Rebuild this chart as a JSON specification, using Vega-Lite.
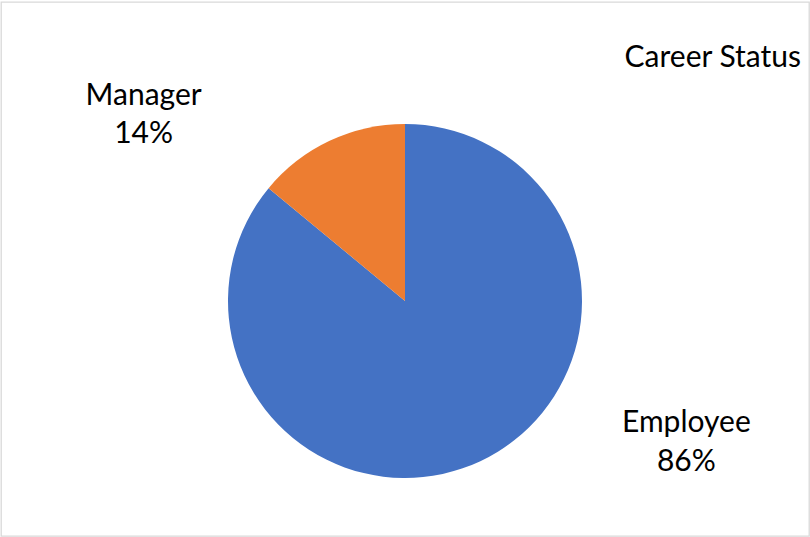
{
  "$schema": "https://vega.github.io/schema/vega-lite/v6.json",
  "width": 808,
  "height": 534,
  "padding": {"left": 1, "top": 2, "right": 1, "bottom": 1},
  "autosize": {"type": "none"},
  "background": "#ffffff",
  "view": {"stroke": "#d9d9d9", "strokeWidth": 1.3, "fill": "#ffffff"},
  "title": {
    "text": "Career Status",
    "anchor": "end",
    "orient": "top",
    "frame": "group",
    "offset": -64,
    "dy": 31,
    "baseline": "alphabetic",
    "dx": -8,
    "fontSize": 30,
    "font": "Lato",
    "fontWeight": "normal",
    "color": "#000000"
  },
  "data": {
    "values": [
      {"category": "Employee", "share": 0.86},
      {"category": "Manager", "share": 0.14}
    ]
  },
  "encoding": {
    "theta": {"field": "share", "type": "quantitative", "stack": true},
    "order": {"field": "category", "type": "ordinal", "sort": "ascending"}
  },
  "layer": [
    {
      "mark": {"type": "arc", "radius": 177, "yOffset": 32},
      "encoding": {
        "color": {
          "field": "category",
          "type": "nominal",
          "scale": {"domain": ["Employee", "Manager"], "range": ["#4472C4", "#ED7D31"]},
          "legend": null
        }
      }
    },
    {
      "mark": {
        "type": "text",
        "radius": 177,
        "yOffset": 32,
        "font": "Lato",
        "fontSize": 30,
        "color": "#000000",
        "align": "center",
        "baseline": "alphabetic",
        "dx": {"expr": "datum.category === 'Manager' ? -186 : 206"},
        "dy": {"expr": "datum.category === 'Manager' ? -36 : -29"}
      },
      "encoding": {
        "text": {"field": "category", "type": "nominal"}
      }
    },
    {
      "mark": {
        "type": "text",
        "radius": 177,
        "yOffset": 32,
        "font": "Lato",
        "fontSize": 30,
        "color": "#000000",
        "align": "center",
        "baseline": "alphabetic",
        "dx": {"expr": "datum.category === 'Manager' ? -186 : 206"},
        "dy": {"expr": "datum.category === 'Manager' ? 2 : 10"}
      },
      "encoding": {
        "text": {"field": "share", "type": "quantitative", "format": ".0%"}
      }
    }
  ]
}
